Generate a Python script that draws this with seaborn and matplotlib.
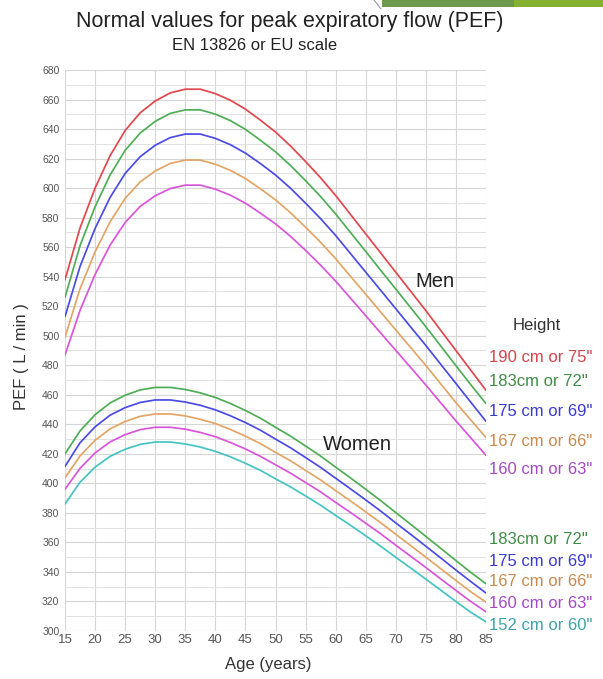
import numpy as np
import pandas as pd
import matplotlib
matplotlib.use("Agg")
import matplotlib.pyplot as plt
from matplotlib.patches import Rectangle
from matplotlib.lines import Line2D
import seaborn as sns

ages = [15, 17.5, 20, 22.5, 25, 27.5, 30, 32.5, 35, 37.5, 40, 42.5, 45, 47.5, 50,
        52.5, 55, 57.5, 60, 62.5, 65, 67.5, 70, 72.5, 75, 77.5, 80, 82.5, 85]

men_190 = [538, 573, 600, 622, 639, 651, 659, 664.5, 667, 667, 664, 659.5, 653.5, 646, 638,
           628.5, 618, 607, 595, 582, 569, 556, 543, 530, 517, 503.5, 490, 476.5, 463]
men_183 = [526, 561, 587.4, 608.9, 625.6, 637.3, 645.2, 650.6, 653, 653, 650.1, 645.7, 639.8, 632.4, 624.6,
           615.3, 605, 594.3, 582.5, 569.8, 557.1, 544.3, 531.6, 518.9, 506.1, 492.9, 479.7, 466.7, 454]
men_175 = [513, 546.9, 572.7, 593.7, 609.9, 621.3, 629, 634.2, 636.6, 636.6, 633.7, 629.4, 623.7, 616.6, 608.9,
           599.9, 589.8, 579.3, 567.9, 555.5, 543.1, 530.7, 518.3, 505.8, 493.4, 480.5, 467.7, 454.8, 442]
men_167 = [499, 531.8, 556.8, 577.2, 593, 604.2, 611.6, 616.7, 619, 619, 616.2, 612, 606.5, 599.5, 592.1,
           583.3, 573.5, 563.3, 552.2, 540.1, 528.1, 516, 503.9, 491.9, 479.8, 467.3, 454.7, 442.8, 431]
men_160 = [487, 517.2, 541.5, 561.4, 576.7, 587.6, 594.8, 599.7, 602, 602, 599.3, 595.2, 589.8, 583, 575.8,
           567.3, 557.8, 547.8, 537, 525.3, 513.6, 501.8, 490.1, 478.4, 466.6, 454.4, 442.3, 430.7, 419]

women_183 = [420, 435.5, 446.5, 454.5, 459.7, 463.3, 465, 465, 463.6, 461.3, 458.2, 454.1, 449.4, 444.1, 438,
             432, 425.3, 418.5, 411, 403.6, 396, 388.3, 380.2, 372.2, 364.1, 355.9, 347.7, 339.6, 332]
women_175 = [411.5, 427.5, 438.3, 446.2, 451.3, 454.8, 456.5, 456.5, 455.1, 452.9, 449.8, 445.8, 441.2, 436, 430,
             424.1, 417.5, 410.8, 403.5, 396.2, 388.8, 381.2, 373.2, 365.4, 357.4, 349.4, 341.3, 333.4, 325.7]
women_167 = [403.8, 418.6, 429.2, 436.9, 441.9, 445.4, 447, 447, 445.7, 443.4, 440.5, 436.5, 432, 426.9, 421,
             415.3, 408.8, 402.3, 395.1, 388, 380.7, 373.3, 365.5, 357.8, 350, 342.1, 334.2, 326.5, 319.5]
women_160 = [396, 410.2, 420.6, 428.1, 433, 436.4, 438, 438, 436.7, 434.5, 431.6, 427.7, 423.3, 418.3, 412.6,
             406.9, 400.6, 394.2, 387.1, 380.2, 373, 365.8, 358.1, 350.6, 343, 335.2, 327.5, 319.9, 313]
women_152 = [386, 400.8, 411, 418.3, 423.1, 426.4, 428, 428, 426.7, 424.6, 421.7, 418, 413.6, 408.8, 403.1,
             397.6, 391.5, 385.2, 378.3, 371.5, 364.5, 357.4, 349.9, 342.6, 335.1, 327.6, 320, 312.6, 306.2]

men_labels = ['190 cm or 75"', '183cm or 72"', '175 cm or 69"', '167 cm or 66"', '160 cm or 63"']
women_labels = ['183cm or 72"', '175 cm or 69"', '167 cm or 66"', '160 cm or 63"', '152 cm or 60"']

x_ticks = list(range(15, 90, 5))
y_ticks = list(range(300, 700, 20))

line_colors = {
    "M190": "#e2474e", "M183": "#4fae55", "M175": "#4b4be6", "M167": "#e3a566", "M160": "#d955d9",
    "W183": "#4fae55", "W175": "#4b4be6", "W167": "#e3a566", "W160": "#d955d9", "W152": "#46c3c3",
}
men_text_colors = ["#d4444a", "#3f8d45", "#3b3bd0", "#c98a4e", "#a448c8"]
women_text_colors = ["#3f8d45", "#3b3bd0", "#c98a4e", "#a448c8", "#3fa3a8"]

series = {
    "M190": men_190, "M183": men_183, "M175": men_175, "M167": men_167, "M160": men_160,
    "W183": women_183, "W175": women_175, "W167": women_167, "W160": women_160, "W152": women_152,
}
rows = []
for name, vals in series.items():
    for a, v in zip(ages, vals):
        rows.append({"age": a, "pef": v, "series": name})
df = pd.DataFrame(rows)

sns.set_theme(style="white")
plt.rcParams['font.family'] = ['Liberation Sans', 'DejaVu Sans']

fig = plt.figure(figsize=(6.03, 6.79), dpi=100)
ax = fig.add_axes([65/603, 1 - 631/679, (486-65)/603, (631-70)/679])

sns.lineplot(data=df, x="age", y="pef", hue="series", palette=line_colors,
             hue_order=list(series.keys()), legend=False, linewidth=1.25, ax=ax)

ax.set_xlim(15, 85)
ax.set_ylim(300, 680)
ax.set_xticks(x_ticks)
ax.set_yticks(y_ticks)
ax.set_yticks(list(range(310, 680, 20)), minor=True)
ax.grid(True, which="major", color="#d6d6d6", linewidth=0.8)
ax.grid(True, which="minor", axis="y", color="#e2e2e2", linewidth=0.7)
for s in ax.spines.values():
    s.set_visible(False)
ax.tick_params(axis="both", which="both", length=0)
ax.tick_params(axis="x", labelsize=9.5, labelcolor="#555555", pad=2)
ax.tick_params(axis="y", labelsize=7.5, labelcolor="#555555", pad=4)
ax.set_xlabel("")
ax.set_ylabel("")

fig.text(268/603, 1 - 665/679, "Age (years)", ha="center", va="center", fontsize=12, color="#333333")
fig.text(22/603, 1 - 357/679, "PEF ( L / min )", ha="center", va="center", rotation=90,
         fontsize=12, color="#333333")

# Titles
fig.text(290/603, 1 - 22/679, "Normal values for peak expiratory flow (PEF)", ha="center", va="center",
         fontsize=15.5, color="#222222")
fig.text(255/603, 1 - 46/679, "EN 13826 or EU scale", ha="center", va="center",
         fontsize=12, color="#222222")

# In-plot labels
ax.text(73.2, 537, "Men", fontsize=14.5, color="#222222", ha="left", va="center")
ax.text(57.9, 426, "Women", fontsize=14.5, color="#222222", ha="left", va="center")

# Right-hand labels
fig.text(513/603, 1 - 325/679, "Height", fontsize=12, color="#333333", ha="left", va="center")
men_y = [357, 382, 412, 441, 469]
women_y = [540, 561, 582, 604, 626]
for lab, c, yy in zip(men_labels, men_text_colors, men_y):
    fig.text(489/603, 1 - yy/679, lab, fontsize=12, color=c, ha="left", va="center")
for lab, c, yy in zip(women_labels, women_text_colors, women_y):
    fig.text(489/603, 1 - yy/679, lab, fontsize=12, color=c, ha="left", va="center")

# Slide decoration top-right
fig.patches.append(Rectangle((382/603, 1 - 7/679), (514-382)/603, 7/679, transform=fig.transFigure,
                             facecolor="#6d9a4c", edgecolor="none"))
fig.patches.append(Rectangle((514/603, 1 - 7/679), (603-514)/603, 7/679, transform=fig.transFigure,
                             facecolor="#84b22f", edgecolor="none"))
fig.lines.append(Line2D([374/603, 381/603], [1.0, 1 - 9/679], transform=fig.transFigure,
                        color="#9a9a9a", linewidth=0.8))

fig.savefig("out.png", dpi=100, facecolor="white")
